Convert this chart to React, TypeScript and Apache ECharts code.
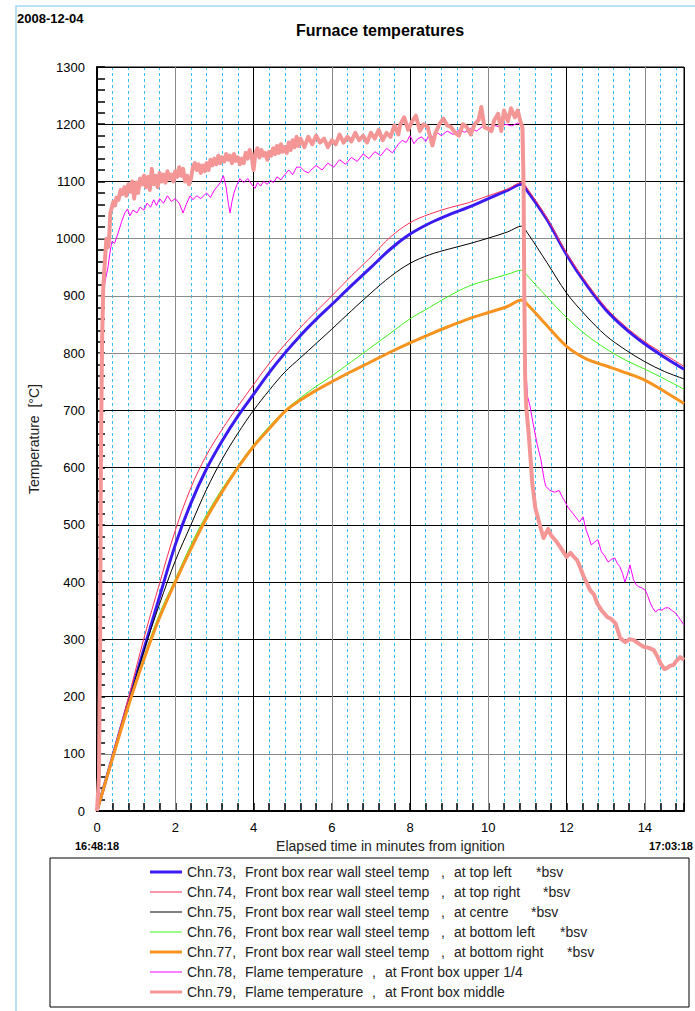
import { useEffect, useRef } from "react";
import * as echarts from "echarts";

// Steel temperature channels share one sampling grid (minutes from ignition).
const STEEL_TIME = [0, 0.4, 0.8, 1.2, 1.6, 2.0, 2.4, 2.8, 3.2, 3.6, 4.0, 4.4, 4.8, 5.2, 5.6, 6.0, 6.5, 7.0, 7.5, 8.0, 8.5, 9.0, 9.5, 10.0, 10.5, 10.85, 11.0, 11.5, 12.0, 12.5, 13.0, 13.5, 14.0, 14.5, 15.0];
const CH73 = [0, 95, 190, 283, 375, 465, 538, 598, 647, 690, 728, 766, 800, 831, 859, 885, 918, 950, 982, 1008, 1027, 1042, 1055, 1070, 1085, 1095, 1083, 1033, 972, 920, 876, 843, 816, 793, 772];
const CH74 = [0, 98, 197, 302, 398, 490, 565, 622, 667, 707, 745, 782, 815, 845, 873, 900, 935, 968, 1003, 1028, 1043, 1054, 1063, 1075, 1087, 1098, 1087, 1036, 975, 924, 880, 847, 820, 798, 777];
const CH75 = [0, 95, 188, 280, 362, 437, 500, 562, 615, 660, 700, 735, 767, 792, 817, 842, 874, 905, 934, 957, 972, 982, 991, 1001, 1012, 1022, 1010, 958, 905, 865, 831, 806, 785, 768, 755];
const CH76 = [0, 93, 185, 270, 345, 405, 465, 518, 563, 603, 640, 672, 700, 722, 742, 760, 785, 810, 835, 860, 880, 900, 917, 928, 938, 945, 935, 898, 862, 832, 808, 788, 772, 755, 737];
const CH77 = [0, 93, 183, 265, 338, 400, 458, 512, 558, 600, 637, 668, 698, 718, 735, 750, 768, 785, 802, 818, 833, 847, 860, 871, 882, 893, 885, 848, 812, 790, 778, 766, 753, 733, 712];

// Flame thermocouples: [minutes, °C]
const CH78: [number, number][] = [
  [0, 0], [0.06, 50], [0.1, 400], [0.13, 750], [0.17, 910], [0.22, 930], [0.28, 950], [0.33, 975], [0.38, 995], [0.45, 992],
  [0.54, 1010], [0.63, 1030], [0.71, 1045], [0.78, 1052], [0.84, 1040], [0.92, 1050], [1.02, 1045], [1.1, 1055], [1.2, 1050], [1.28, 1062],
  [1.37, 1055], [1.45, 1068], [1.52, 1058], [1.6, 1070], [1.7, 1062], [1.8, 1075], [1.9, 1065], [2.0, 1070], [2.1, 1062], [2.2, 1045],
  [2.28, 1060], [2.38, 1075], [2.45, 1068], [2.55, 1075], [2.65, 1070], [2.8, 1080], [2.9, 1072], [3.0, 1085], [3.06, 1090], [3.15, 1098],
  [3.23, 1110], [3.3, 1090], [3.36, 1060], [3.4, 1045], [3.45, 1065], [3.5, 1080], [3.58, 1095], [3.65, 1105], [3.75, 1098], [3.85, 1105],
  [3.95, 1095], [4.04, 1088], [4.1, 1098], [4.18, 1092], [4.26, 1100], [4.35, 1095], [4.43, 1102], [4.51, 1098], [4.6, 1108], [4.7, 1103],
  [4.8, 1112], [4.9, 1120], [5.0, 1112], [5.1, 1125], [5.2, 1125], [5.3, 1118], [5.4, 1115], [5.5, 1122], [5.6, 1128], [5.75, 1120],
  [5.9, 1132], [6.05, 1125], [6.2, 1138], [6.35, 1130], [6.5, 1142], [6.65, 1135], [6.8, 1148], [6.95, 1140], [7.1, 1152], [7.25, 1145],
  [7.4, 1158], [7.55, 1150], [7.7, 1165], [7.8, 1172], [7.9, 1168], [8.0, 1180], [8.1, 1166], [8.2, 1175], [8.3, 1178], [8.4, 1170],
  [8.5, 1183], [8.6, 1176], [8.7, 1185], [8.8, 1180], [8.95, 1188], [9.1, 1182], [9.25, 1190], [9.4, 1186], [9.55, 1193], [9.7, 1188],
  [9.85, 1196], [10.0, 1192], [10.15, 1198], [10.3, 1195], [10.45, 1200], [10.6, 1197], [10.75, 1202], [10.85, 1198], [10.9, 1195], [10.92, 1000],
  [10.95, 780], [11.0, 725], [11.06, 709], [11.15, 675], [11.25, 640], [11.34, 615], [11.43, 578], [11.47, 567], [11.58, 560], [11.69, 557],
  [11.81, 560], [11.88, 550], [11.94, 543], [12.03, 531], [12.1, 525], [12.16, 520], [12.25, 512], [12.33, 505], [12.42, 514], [12.5, 491],
  [12.57, 478], [12.63, 465], [12.72, 470], [12.8, 474], [12.89, 453], [12.98, 445], [13.06, 435], [13.15, 440], [13.23, 442], [13.3, 432],
  [13.36, 427], [13.43, 415], [13.49, 400], [13.55, 412], [13.62, 430], [13.71, 404], [13.78, 395], [13.84, 392], [13.92, 390], [14.01, 386],
  [14.08, 375], [14.14, 363], [14.2, 355], [14.27, 348], [14.35, 352], [14.44, 351], [14.52, 355], [14.61, 355], [14.7, 350], [14.78, 346],
  [14.85, 340], [14.91, 334], [15.0, 325],
];
const CH79: [number, number][] = [
  [0, 0], [0.05, 60], [0.08, 300], [0.1, 620], [0.13, 820], [0.16, 915], [0.2, 960], [0.24, 1000], [0.28, 985], [0.31, 1000],
  [0.34, 1045], [0.38, 1055], [0.42, 1065], [0.46, 1058], [0.5, 1072], [0.55, 1068], [0.6, 1085], [0.65, 1078], [0.7, 1090], [0.75, 1075],
  [0.8, 1095], [0.85, 1082], [0.9, 1100], [0.95, 1070], [1.0, 1098], [1.05, 1080], [1.1, 1105], [1.15, 1095], [1.2, 1110], [1.25, 1090],
  [1.3, 1108], [1.35, 1085], [1.4, 1122], [1.45, 1095], [1.5, 1110], [1.55, 1090], [1.6, 1115], [1.65, 1100], [1.7, 1112], [1.75, 1098],
  [1.8, 1118], [1.85, 1105], [1.9, 1112], [1.95, 1100], [2.0, 1118], [2.05, 1108], [2.1, 1125], [2.15, 1110], [2.2, 1122], [2.25, 1100],
  [2.3, 1110], [2.35, 1095], [2.4, 1105], [2.45, 1125], [2.5, 1132], [2.55, 1120], [2.6, 1130], [2.65, 1115], [2.7, 1128], [2.75, 1118],
  [2.8, 1132], [2.85, 1120], [2.9, 1138], [2.95, 1128], [3.0, 1140], [3.05, 1130], [3.1, 1145], [3.15, 1132], [3.2, 1142], [3.25, 1135],
  [3.3, 1148], [3.35, 1138], [3.4, 1145], [3.45, 1132], [3.5, 1148], [3.55, 1136], [3.6, 1142], [3.65, 1130], [3.7, 1140], [3.75, 1132],
  [3.8, 1150], [3.85, 1140], [3.9, 1155], [3.95, 1145], [4.0, 1120], [4.05, 1150], [4.1, 1158], [4.15, 1142], [4.2, 1155], [4.25, 1145],
  [4.3, 1150], [4.35, 1138], [4.4, 1152], [4.45, 1145], [4.5, 1158], [4.55, 1148], [4.6, 1162], [4.65, 1150], [4.7, 1165], [4.75, 1152],
  [4.8, 1160], [4.85, 1150], [4.9, 1168], [4.95, 1155], [5.0, 1172], [5.05, 1160], [5.1, 1178], [5.15, 1162], [5.2, 1175], [5.3, 1160],
  [5.4, 1178], [5.5, 1165], [5.6, 1180], [5.7, 1168], [5.8, 1175], [5.9, 1160], [6.0, 1172], [6.1, 1165], [6.2, 1182], [6.3, 1168],
  [6.4, 1178], [6.5, 1170], [6.6, 1185], [6.7, 1172], [6.8, 1180], [6.9, 1168], [7.0, 1185], [7.1, 1175], [7.2, 1190], [7.3, 1172],
  [7.4, 1185], [7.5, 1178], [7.6, 1198], [7.7, 1182], [7.75, 1200], [7.85, 1212], [7.95, 1190], [8.05, 1205], [8.15, 1215], [8.25, 1188],
  [8.35, 1200], [8.45, 1195], [8.57, 1163], [8.65, 1185], [8.75, 1200], [8.85, 1210], [8.95, 1198], [9.05, 1195], [9.15, 1185], [9.25, 1180],
  [9.35, 1200], [9.45, 1195], [9.55, 1182], [9.65, 1200], [9.75, 1207], [9.82, 1230], [9.9, 1195], [10.0, 1192], [10.08, 1188], [10.15, 1207],
  [10.25, 1218], [10.33, 1188], [10.4, 1224], [10.5, 1205], [10.58, 1228], [10.68, 1212], [10.75, 1224], [10.82, 1205], [10.87, 1195], [10.9, 1100],
  [10.92, 900], [10.94, 760], [10.97, 705], [11.03, 660], [11.08, 615], [11.12, 575], [11.2, 530], [11.33, 496], [11.41, 477], [11.53, 493],
  [11.6, 482], [11.66, 477], [11.75, 470], [11.83, 462], [12.0, 444], [12.1, 451], [12.2, 443], [12.27, 438], [12.35, 425], [12.44, 409],
  [12.52, 398], [12.6, 386], [12.7, 378], [12.78, 363], [12.9, 350], [13.04, 339], [13.15, 335], [13.25, 328], [13.37, 302], [13.5, 295],
  [13.6, 300], [13.71, 299], [13.85, 292], [13.97, 287], [14.1, 285], [14.23, 281], [14.32, 270], [14.4, 258], [14.5, 248], [14.57, 250],
  [14.65, 254], [14.73, 255], [14.8, 262], [14.9, 269], [15.0, 264],
];

// Legend wording, split into the columns of the legend table.
const CHANNELS = ["Chn.73,", "Chn.74,", "Chn.75,", "Chn.76,", "Chn.77,", "Chn.78,", "Chn.79,"];
const DESCRIPTIONS = [
  "Front box rear wall steel temp",
  "Front box rear wall steel temp",
  "Front box rear wall steel temp",
  "Front box rear wall steel temp",
  "Front box rear wall steel temp",
  "Flame temperature",
  "Flame temperature",
];
const LOCATIONS = ["at top left", "at top right", "at centre", "at bottom left", "at bottom right", "at Front box upper 1/4", "at Front box middle"];
const FLAGS = ["*bsv", "*bsv", "*bsv", "*bsv", "*bsv", "", ""];

const FONT = "'Liberation Sans', Arial, sans-serif";

const SERIES_STYLE = [
  { color: "#3a1cf2", width: 3 },
  { color: "#ff2d55", width: 1 },
  { color: "#000000", width: 1 },
  { color: "#3ff21a", width: 1 },
  { color: "#f7931e", width: 3 },
  { color: "#ff00ff", width: 1 },
  { color: "#f49696", width: 4 },
];
// Column widths of the legend rows (description, location)
const DESC_W = [196, 196, 196, 196, 196, 127, 127];
const LOC_W = [82, 89, 77, 106, 113, 140, 140];

const THICK_ICON = "path://M0,0H32V3H0Z";
const THIN_ICON = "path://M0,0H32V1H0Z";

export default function App() {
  const ref = useRef<HTMLDivElement>(null);

  useEffect(() => {
    document.body.style.margin = "0";
    const chart = echarts.init(ref.current!, null, { renderer: "svg" });

    const names = CHANNELS.map((c, i) => `${c} ${DESCRIPTIONS[i]} , ${LOCATIONS[i]} ${FLAGS[i]}`.trim());
    const steel = [CH73, CH74, CH75, CH76, CH77];

    const series: any[] = [];
    steel.forEach((vals, i) => {
      series.push({
        name: names[i],
        type: "line",
        data: STEEL_TIME.map((t, k) => [t, vals[k]]),
        showSymbol: false,
        symbol: "none",
        smooth: 0.35,
        z: 3,
        lineStyle: { color: SERIES_STYLE[i].color, width: SERIES_STYLE[i].width },
        itemStyle: { color: SERIES_STYLE[i].color },
      });
    });
    [CH78, CH79].forEach((pts, j) => {
      const i = 5 + j;
      series.push({
        name: names[i],
        type: "line",
        data: pts,
        showSymbol: false,
        symbol: "none",
        z: 3,
        lineStyle: { color: SERIES_STYLE[i].color, width: SERIES_STYLE[i].width, join: "round" },
        itemStyle: { color: SERIES_STYLE[i].color },
      });
    });

    const rich: any = {
      ch: { width: 58, fontSize: 14, fontFamily: FONT, color: "#222", lineHeight: 14 },
      cm: { width: 13, fontSize: 14, fontFamily: FONT, color: "#222", lineHeight: 14 },
      fl: { fontSize: 14, fontFamily: FONT, color: "#222", lineHeight: 14 },
    };
    DESC_W.forEach((w, i) => {
      rich["d" + i] = { width: w, fontSize: 14, fontFamily: FONT, color: "#222", lineHeight: 14 };
      rich["l" + i] = { width: LOC_W[i], fontSize: 14, fontFamily: FONT, color: "#222", lineHeight: 14 };
    });

    const cyan = "#36bdf0";
    const minorColors = Array.from({ length: 39 }, (_, i) => (i % 5 === 0 || i === 38 ? "rgba(0,0,0,0)" : cyan));
    const majorX = ["#000", "#8a8a8a", "#000", "#8a8a8a", "#000", "#8a8a8a", "#000", "#8a8a8a", "#000"];
    const majorY = ["#000", "#8a8a8a", "#000", "#000", "#000", "#000", "#000", "#000", "#8a8a8a", "#8a8a8a", "#8a8a8a", "#000", "#000", "#000"];

    chart.setOption({
      animation: false,
      backgroundColor: "#fff",
      title: {
        text: "Furnace temperatures",
        left: 380,
        top: 22,
        padding: 0,
        textAlign: "center",
        textStyle: { fontSize: 16, fontWeight: "bold", fontFamily: FONT, color: "#000" },
      },
      grid: { left: 97, top: 67, width: 587, height: 744, show: true, borderColor: "#000", borderWidth: 1, backgroundColor: "transparent" },
      xAxis: [
        {
          type: "value",
          min: 0,
          max: 15,
          interval: 2,
          position: "bottom",
          z: 2,
          axisLine: { show: true, onZero: false, lineStyle: { color: "#000", width: 2 } },
          axisTick: { show: false },
          axisLabel: { showMaxLabel: false, fontSize: 13, color: "#000", fontFamily: FONT, margin: 10, formatter: (v: number) => String(v) },
          splitLine: { show: true, lineStyle: { color: majorX, width: 1 } },
          name: "Elapsed time in minutes from ignition",
          nameLocation: "middle",
          nameGap: 28,
          nameTextStyle: { fontSize: 14, fontFamily: FONT, color: "#222" },
        },
        {
          type: "value",
          min: 0,
          max: 15,
          interval: 0.4,
          position: "bottom",
          offset: 4,
          z: 1,
          axisLine: { show: false },
          axisLabel: { show: false },
          axisTick: { show: true, inside: true, length: 8, lineStyle: { color: "#000", width: 1.5 } },
          splitLine: { show: true, lineStyle: { color: minorColors, width: 1, type: [3, 3] } },
        },
      ],
      yAxis: [
        {
          type: "value",
          min: 0,
          max: 1300,
          interval: 100,
          position: "left",
          z: 2,
          axisLine: { show: true, onZero: false, lineStyle: { color: "#000", width: 2 } },
          axisTick: { show: false },
          axisLabel: { fontSize: 13, color: "#000", fontFamily: FONT, margin: 12, formatter: (v: number) => String(v) },
          splitLine: { show: true, lineStyle: { color: majorY, width: 1 } },
          name: "Temperature  [°C]",
          nameLocation: "middle",
          nameGap: 56,
          nameRotate: 90,
          nameTextStyle: { fontSize: 14, fontFamily: FONT, color: "#222" },
        },
        {
          type: "value",
          min: 0,
          max: 1300,
          interval: 20,
          position: "left",
          offset: 4,
          z: 1,
          axisLine: { show: false },
          axisLabel: { show: false },
          axisTick: { show: true, inside: true, length: 8, lineStyle: { color: "#000", width: 1.5 } },
          splitLine: { show: false },
        },
      ],
      legend: {
        orient: "vertical",
        left: 150,
        top: 865,
        padding: 0,
        itemWidth: 32,
        itemHeight: 14,
        itemGap: 6,
        selectedMode: false,
        itemStyle: { borderWidth: 0 },
        textStyle: { fontSize: 14, fontFamily: FONT, color: "#222", lineHeight: 14, rich },
        formatter: (name: string) => {
          const i = names.indexOf(name);
          return `{ch|${CHANNELS[i]}}{d${i}|${DESCRIPTIONS[i]}}{cm|,}{l${i}|${LOCATIONS[i]}}{fl|${FLAGS[i]}}`;
        },
        data: names.map((n, i) => ({ name: n, icon: SERIES_STYLE[i].width > 1 ? THICK_ICON : THIN_ICON })),
      },
      graphic: [
        {
          type: "polyline",
          shape: { points: [[16, 1011], [16, 6], [695, 6]] },
          style: { stroke: "#a3d9f5", lineWidth: 1.5, fill: "none" },
          silent: true,
        },
        {
          type: "text",
          left: 17,
          top: 12,
          style: { text: "2008-12-04", fontSize: 13, fontWeight: "bold", fontFamily: FONT, fill: "#000" },
        },
        {
          type: "text",
          x: 97,
          y: 846,
          style: { text: "16:48:18", fontSize: 11, fontWeight: "bold", fontFamily: FONT, fill: "#000", textAlign: "center", textVerticalAlign: "middle" },
        },
        {
          type: "text",
          x: 693,
          y: 846,
          style: { text: "17:03:18", fontSize: 11, fontWeight: "bold", fontFamily: FONT, fill: "#000", textAlign: "right", textVerticalAlign: "middle" },
        },
        {
          type: "rect",
          shape: { x: 50, y: 858, width: 639, height: 149 },
          style: { stroke: "#000", lineWidth: 1, fill: "none" },
          silent: true,
        },
      ],
      series,
    });

    return () => chart.dispose();
  }, []);

  return <div ref={ref} style={{ width: 695, height: 1011 }} />;
}
